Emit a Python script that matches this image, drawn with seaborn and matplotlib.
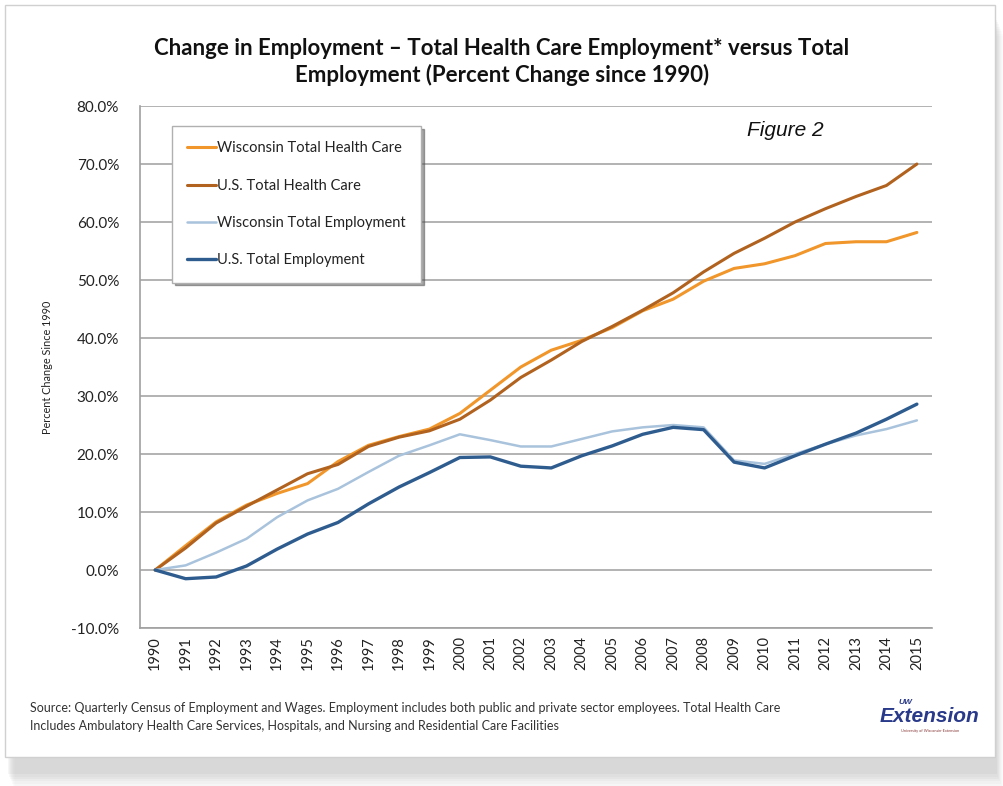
import matplotlib
matplotlib.use("Agg")
import matplotlib.pyplot as plt
from matplotlib.patches import Rectangle
from matplotlib.ticker import FuncFormatter, MultipleLocator
import numpy as np
import pandas as pd
import seaborn as sns

# Percent change in employment since 1990
years = list(range(1990, 2016))
wi_health = [0.0, 4.2, 8.3, 11.2, 13.2, 14.9, 18.7, 21.5, 23.0, 24.3, 27.0,
             31.0, 35.0, 37.9, 39.6, 41.8, 44.7, 46.7, 49.8, 52.0, 52.8,
             54.2, 56.3, 56.6, 56.6, 58.2]
us_health = [0.0, 3.8, 8.1, 11.0, 13.8, 16.6, 18.2, 21.3, 22.9, 24.0, 26.0,
             29.3, 33.2, 36.2, 39.4, 42.0, 44.8, 47.8, 51.4, 54.6, 57.2,
             60.0, 62.3, 64.4, 66.3, 70.0]
wi_total = [0.0, 0.8, 3.0, 5.4, 9.1, 12.0, 14.0, 16.9, 19.7, 21.5, 23.4,
            22.4, 21.3, 21.3, 22.6, 23.9, 24.6, 25.0, 24.6, 18.9, 18.3,
            20.0, 21.7, 23.2, 24.3, 25.8]
us_total = [0.0, -1.5, -1.2, 0.7, 3.6, 6.2, 8.2, 11.4, 14.3, 16.8, 19.4,
            19.5, 17.9, 17.6, 19.7, 21.4, 23.4, 24.6, 24.2, 18.6, 17.6,
            19.7, 21.7, 23.6, 26.0, 28.6]

series_names = ["Wisconsin Total Health Care", "U.S. Total Health Care",
                "Wisconsin Total Employment", "U.S. Total Employment"]
series_colors = ["#F0962A", "#B0621E", "#A9C3DC", "#2F5C8F"]
series_widths = [2.2, 2.2, 1.8, 2.4]

title_text = ("Change in Employment \u2013 Total Health Care Employment* versus Total\n"
              "Employment (Percent Change since 1990)")
source_text = ("Source: Quarterly Census of Employment and Wages. Employment includes both public "
               "and private sector employees. Total Health Care\n"
               "Includes Ambulatory Health Care Services, Hospitals, and Nursing and Residential "
               "Care Facilities")

df = pd.DataFrame({"Year": years,
                   series_names[0]: wi_health,
                   series_names[1]: us_health,
                   series_names[2]: wi_total,
                   series_names[3]: us_total})
long_df = df.melt(id_vars="Year", var_name="Series", value_name="Change")
long_df["pos"] = long_df["Year"] - years[0]

sns.set_theme(style="white")
plt.rcParams["font.family"] = ["Lato", "DejaVu Sans"]

fig = plt.figure(figsize=(10.04, 7.86), dpi=100)
fig.patch.set_facecolor("white")

# card with soft shadow
for i, a in enumerate(np.linspace(0.05, 0.012, 8)):
    fig.patches.append(Rectangle((0.008 + i * 0.001, 0.015 - i * 0.003), 0.985, 0.96,
                                 transform=fig.transFigure, facecolor="#606060",
                                 edgecolor="none", alpha=a, zorder=0))
fig.patches.append(Rectangle((0.005, 0.037), 0.986, 0.957, transform=fig.transFigure,
                             facecolor="white", edgecolor="#d0d0d0", lw=1.0, zorder=1))

ax = fig.add_axes([0.1394, 0.2010, 0.789, 0.6641])
ax.set_zorder(2)
ax.set_facecolor("white")

palette = dict(zip(series_names, series_colors))
sns.lineplot(data=long_df, x="pos", y="Change", hue="Series", hue_order=series_names,
             palette=palette, ax=ax, legend=False, sort=False)
for line, lw in zip(ax.get_lines(), series_widths):
    line.set_linewidth(lw)
    line.set_solid_joinstyle("round")

ax.set_xlim(-0.5, len(years) - 0.5)
ax.set_ylim(-10, 80)
ax.yaxis.set_major_locator(MultipleLocator(10))
ax.yaxis.set_major_formatter(FuncFormatter(lambda v, p: f"{v:.1f}%"))
ax.set_xticks(range(len(years)))
ax.set_xticklabels([str(y) for y in years], rotation=90)
ax.grid(axis="y", color="#a6a6a6", lw=1.2)
ax.set_axisbelow(True)
for s in ["top", "right"]:
    ax.spines[s].set_visible(False)
for s in ["left", "bottom"]:
    ax.spines[s].set_color("#a0a0a0")
    ax.spines[s].set_linewidth(1.2)
ax.tick_params(axis="y", which="major", direction="out", length=5, color="#a0a0a0",
               labelsize=11, labelcolor="#222222", pad=10)
ax.tick_params(axis="x", which="major", direction="out", length=0,
               labelsize=10.5, labelcolor="#222222", pad=6)
ax.set_xlabel("")
ax.set_ylabel("Percent Change Since 1990", fontsize=7.8, color="#222222", labelpad=13)

# legend
handles = [plt.Line2D([], [], color=c, lw=w) for c, w in zip(series_colors, series_widths)]
leg = fig.legend(handles, series_names, loc="upper left",
                 bbox_to_anchor=(172 / 1004, 1 - 126 / 786), frameon=True,
                 fancybox=False, shadow=True, fontsize=10.5, handlelength=2.0,
                 handletextpad=0.05, labelspacing=1.6, borderpad=1.05,
                 borderaxespad=0.0)
leg.get_frame().set_edgecolor("#b0b0b0")
leg.get_frame().set_linewidth(1.0)
leg.set_zorder(5)
for t in leg.get_texts():
    t.set_color("#222222")

fig.text(0.5, 1 - 62 / 786, title_text, ha="center", va="center", fontsize=16,
         fontweight="bold", color="#111111", linespacing=1.25, zorder=3)
fig.text(785 / 1004, 1 - 130 / 786, "Figure 2", ha="center", va="center", fontsize=15,
         style="italic", family=["Liberation Sans", "DejaVu Sans"], color="#111111",
         zorder=3)
fig.text(30 / 1004, 1 - 717 / 786, source_text, ha="left", va="center", fontsize=9.0,
         color="#333333", linespacing=1.5, zorder=3)

# extension mark
fig.text(930 / 1004, 1 - 716 / 786, "Extension", ha="center", va="center", fontsize=15,
         style="italic", fontweight="bold", color="#2a3a8a",
         family=["Liberation Sans", "DejaVu Sans"], zorder=3)
fig.text(905 / 1004, 1 - 702 / 786, "UW", ha="center", va="center", fontsize=6,
         style="italic", fontweight="bold", color="#2a3a8a",
         family=["Liberation Sans", "DejaVu Sans"], zorder=3)
fig.text(930 / 1004, 1 - 731 / 786, "University of Wisconsin-Extension", ha="center",
         va="center", fontsize=2.8, color="#8a3a3a", zorder=3)

fig.savefig("out.png", dpi=100, facecolor=fig.get_facecolor())
